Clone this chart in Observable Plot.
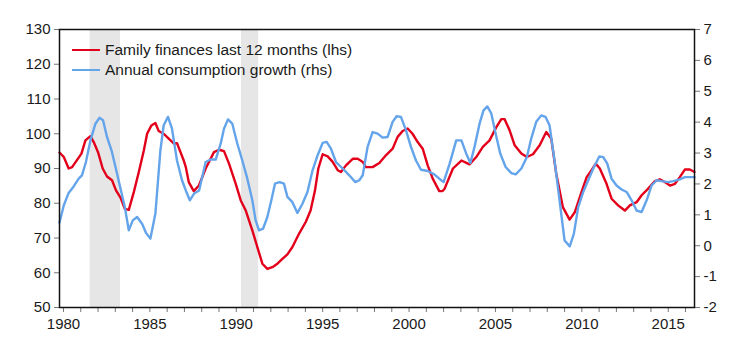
<!DOCTYPE html>
<html>
<head>
<meta charset="utf-8">
<script src="https://cdn.jsdelivr.net/npm/d3@7"></script>
<script src="https://cdn.jsdelivr.net/npm/@observablehq/plot@0.6"></script>
<style>
  body { margin: 0; background: #fff; font-family: "Liberation Sans", Arial, sans-serif; }
  #wrap { position: relative; width: 754px; height: 360px; }
  #legend { position: absolute; left: 72px; top: 40px; font-size: 15.5px; color: #1a1a1a; }
  .row { display: flex; align-items: center; height: 20px; white-space: nowrap; }
  .sw { width: 28px; height: 2.5px; margin-right: 5px; }
</style>
</head>
<body>
<div id="wrap"><div id="legend"></div></div>
<script>
// ---- data ----
const redName = "Family finances last 12 months (lhs)";
const blueName = "Annual consumption growth (rhs)";

const redYears = [1979.77,1980.02,1980.3,1980.5,1980.79,1981.04,1981.27,1981.56,1981.75,1982.0,1982.27,1982.52,1982.81,1983.04,1983.3,1983.55,1983.78,1984.07,1984.36,1984.65,1984.84,1985.09,1985.32,1985.51,1985.8,1986.09,1986.38,1986.57,1986.96,1987.08,1987.25,1987.54,1987.84,1988.23,1988.71,1989.0,1989.29,1989.58,1989.97,1990.26,1990.55,1990.93,1991.22,1991.51,1991.8,1992.09,1992.38,1992.67,1992.96,1993.25,1993.63,1994.02,1994.3,1994.55,1994.75,1995.0,1995.29,1995.58,1995.87,1996.06,1996.35,1996.74,1997.03,1997.32,1997.5,1997.89,1998.28,1998.66,1999.05,1999.34,1999.63,1999.92,2000.2,2000.5,2000.79,2001.08,2001.37,2001.75,2001.94,2002.06,2002.54,2003.03,2003.5,2003.89,2004.27,2004.66,2005.05,2005.34,2005.53,2005.82,2006.11,2006.5,2006.82,2007.17,2007.56,2007.94,2008.23,2008.52,2008.9,2009.29,2009.6,2009.98,2010.27,2010.56,2010.81,2011.04,2011.43,2011.72,2012.1,2012.49,2012.78,2013.17,2013.46,2013.84,2014.23,2014.51,2014.8,2015.1,2015.39,2015.67,2015.96,2016.25,2016.52];
const redValues = [94.6,93.3,90.0,90.4,92.5,94.3,98.1,99.3,97.6,94.7,90.0,87.7,86.6,83.7,81.6,78.4,78.1,83.2,89.0,95.2,100.0,102.4,103.1,100.8,100.0,98.6,97.2,97.3,92.3,90.4,86.1,83.5,85.1,90.0,94.7,95.4,95.0,91.4,85.6,80.8,77.9,72.2,67.4,62.6,61.1,61.6,62.6,64.0,65.3,67.4,71.2,74.6,77.9,83.5,90.0,94.1,93.5,91.9,89.5,89.0,90.9,92.8,92.8,91.9,90.4,90.4,91.6,93.8,95.7,99.1,100.8,101.5,100.0,97.6,95.7,90.9,87.1,83.5,83.5,84.2,90.0,92.3,91.2,93.3,96.2,98.1,101.9,104.2,104.2,101.0,96.7,94.3,93.3,94.1,96.7,100.5,98.6,88.5,78.9,75.3,77.5,83.2,87.4,89.5,91.4,90.0,85.6,81.3,79.4,77.9,79.4,80.3,82.3,84.2,86.4,86.9,86.1,85.1,85.6,87.5,89.7,89.7,89.0];

const blueYears = [1979.77,1980.02,1980.3,1980.59,1980.88,1981.07,1981.3,1981.56,1981.85,1982.08,1982.29,1982.52,1982.78,1983.01,1983.3,1983.55,1983.78,1984.01,1984.26,1984.55,1984.78,1985.03,1985.32,1985.61,1985.8,1986.05,1986.28,1986.57,1986.86,1987.08,1987.31,1987.56,1987.85,1988.23,1988.52,1988.81,1989.1,1989.29,1989.52,1989.77,1990.06,1990.35,1990.64,1990.93,1991.12,1991.32,1991.55,1991.8,1992.05,1992.24,1992.51,1992.76,1992.96,1993.25,1993.54,1993.83,1994.12,1994.42,1994.71,1995.0,1995.23,1995.48,1995.77,1996.16,1996.54,1996.89,1997.12,1997.32,1997.6,1997.89,1998.18,1998.47,1998.76,1999.05,1999.28,1999.53,1999.82,2000.11,2000.4,2000.69,2001.08,2001.46,2001.75,2002.0,2002.35,2002.73,2003.03,2003.31,2003.55,2003.79,2004.08,2004.31,2004.53,2004.76,2005.01,2005.28,2005.59,2005.92,2006.17,2006.5,2006.82,2007.07,2007.36,2007.65,2007.9,2008.13,2008.42,2008.71,2009.0,2009.3,2009.54,2009.79,2010.08,2010.37,2010.66,2011.01,2011.24,2011.47,2011.72,2012.01,2012.3,2012.59,2012.88,2013.17,2013.46,2013.75,2014.04,2014.33,2014.62,2015.0,2015.29,2015.67,2015.96,2016.52];
const blueValues = [0.75,1.31,1.71,1.92,2.17,2.28,2.71,3.41,3.95,4.14,4.06,3.52,3.09,2.55,1.85,1.25,0.50,0.82,0.93,0.71,0.41,0.23,1.04,3.09,3.90,4.17,3.79,2.76,2.12,1.79,1.47,1.69,1.79,2.71,2.79,2.79,3.31,3.79,4.09,3.95,3.31,2.76,2.17,1.47,0.82,0.50,0.55,0.93,1.52,2.01,2.06,2.01,1.58,1.41,1.06,1.36,1.74,2.45,2.93,3.33,3.36,3.14,2.71,2.50,2.28,2.06,2.12,2.28,3.20,3.68,3.63,3.50,3.52,4.01,4.19,4.17,3.74,3.20,2.76,2.46,2.42,2.31,2.17,2.06,2.66,3.41,3.41,2.98,2.68,3.20,3.95,4.38,4.51,4.28,3.63,2.98,2.55,2.35,2.31,2.50,2.87,3.47,4.01,4.22,4.17,3.90,2.76,1.47,0.17,-0.02,0.39,1.25,1.74,2.12,2.50,2.89,2.87,2.66,2.17,1.95,1.82,1.74,1.47,1.14,1.09,1.47,1.95,2.12,2.09,2.06,2.09,2.15,2.22,2.22];

const recessionStart = [1981.54, 1990.3];
const recessionEnd = [1983.3, 1991.3];

const leftTicks = [50, 60, 70, 80, 90, 100, 110, 120, 130];
const rightTicks = [-2, -1, 0, 1, 2, 3, 4, 5, 6, 7];
const xTickYears = d3.range(1980, 2017);
const xDomain = [1979.77, 2016.52];

const redColor = "#e3001b";
const blueColor = "#64a4ea";

// ---- dual-axis mapping: rhs -> lhs units ----
const leftDomain = [leftTicks[0], leftTicks[leftTicks.length - 1]];
const rightDomain = [rightTicks[0], rightTicks[rightTicks.length - 1]];
const toL = r => leftDomain[0] + (r - rightDomain[0]) * (leftDomain[1] - leftDomain[0]) / (rightDomain[1] - rightDomain[0]);
const fromL = l => rightDomain[0] + (l - leftDomain[0]) * (rightDomain[1] - rightDomain[0]) / (leftDomain[1] - leftDomain[0]);

const red = redYears.map((x, i) => ({x, y: redValues[i]}));
const blue = blueYears.map((x, i) => ({x, y: toL(blueValues[i])}));
const bands = recessionStart.map((s, i) => ({x1: s, x2: recessionEnd[i]}));

const chart = Plot.plot({
  width: 754,
  height: 360,
  marginLeft: 59,
  marginRight: 60,
  marginTop: 29,
  marginBottom: 53,
  style: {fontFamily: "'Liberation Sans', Arial, sans-serif", fontSize: "15px", background: "#fff", color: "#1a1a1a"},
  x: {domain: xDomain},
  y: {domain: leftDomain},
  marks: [
    Plot.rect(bands, {x1: "x1", x2: "x2", fill: "#e6e6e6"}),
    Plot.line(red, {x: "x", y: "y", stroke: redColor, strokeWidth: 2.4}),
    Plot.line(blue, {x: "x", y: "y", stroke: blueColor, strokeWidth: 2.4}),
    Plot.axisX({ticks: xTickYears, tickFormat: d => d % 5 === 0 ? String(d) : "", tickSize: 5, tickPadding: 6, stroke: "#777", fill: "#1a1a1a", label: null}),
    Plot.axisY({ticks: leftTicks, anchor: "left", tickSize: 5, tickPadding: 4, stroke: "#777", fill: "#1a1a1a", label: null}),
    Plot.axisY({ticks: rightTicks.map(toL), anchor: "right", tickSize: 5, tickPadding: 4, stroke: "#777", fill: "#1a1a1a", label: null,
      tickFormat: d => String(Math.round(fromL(d)))}),
    Plot.frame({stroke: "#111", strokeWidth: 1.5})
  ]
});
const wrap = document.getElementById("wrap");
wrap.insertBefore(chart, wrap.firstChild);

const legend = document.getElementById("legend");
[[redName, redColor], [blueName, blueColor]].forEach(([name, color]) => {
  const row = document.createElement("div");
  row.className = "row";
  const sw = document.createElement("div");
  sw.className = "sw";
  sw.style.background = color;
  const t = document.createElement("span");
  t.textContent = name;
  row.appendChild(sw);
  row.appendChild(t);
  legend.appendChild(row);
});
</script>
</body>
</html>
